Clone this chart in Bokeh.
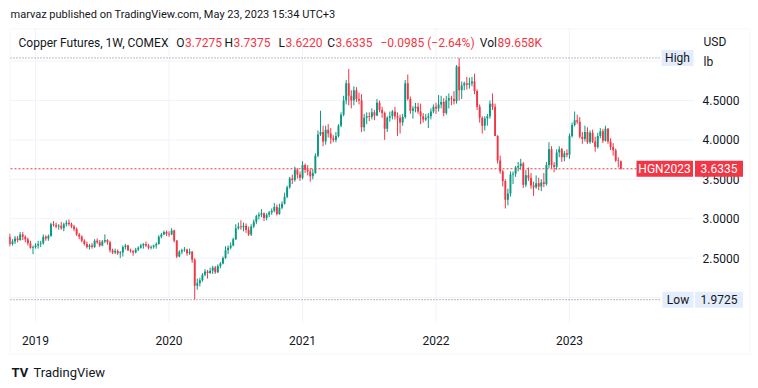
import pandas as pd
from bokeh.plotting import figure
from bokeh.models import Range1d, Label, BoxAnnotation, ColumnDataSource
from bokeh.core.properties import value
from bokeh.embed import file_html
from bokeh.resources import INLINE

# ---------------- data (weekly candles, HG copper futures, USD/lb) ----------------
start_week = "2018-10-29"

opens = [
    # 2018
    2.77, 2.68, 2.71, 2.75, 2.73, 2.80, 2.77, 2.74, 2.69,
    # 2019
    2.63, 2.64, 2.66, 2.68, 2.69, 2.77, 2.75, 2.78, 2.93, 2.92, 2.90, 2.91, 2.88, 2.93, 2.95, 2.93,
    2.90, 2.87, 2.80, 2.77, 2.72, 2.68, 2.64, 2.66, 2.64, 2.72, 2.70, 2.66, 2.71, 2.73, 2.70, 2.60,
    2.57, 2.59, 2.56, 2.57, 2.64, 2.66, 2.60, 2.59, 2.57, 2.61, 2.63, 2.66, 2.68, 2.66, 2.63, 2.64,
    2.66, 2.68, 2.77, 2.80,
    # 2020
    2.83, 2.81, 2.80, 2.85, 2.72, 2.52, 2.58, 2.60, 2.61, 2.56, 2.58, 2.48, 2.15, 2.18, 2.22, 2.29,
    2.33, 2.31, 2.34, 2.38, 2.32, 2.40, 2.43, 2.50, 2.60, 2.63, 2.66, 2.74, 2.88, 2.90, 2.89, 2.91,
    2.86, 2.80, 2.90, 2.96, 3.03, 3.05, 3.07, 3.01, 3.05, 3.08, 3.10, 3.15, 3.06, 3.14, 3.19, 3.28,
    3.40, 3.51, 3.49, 3.62, 3.56,
    # 2021
    3.52, 3.68, 3.62, 3.60, 3.54, 3.58, 3.80, 4.07, 4.10, 3.98, 4.13, 4.08, 4.02, 4.00, 4.05, 4.18,
    4.32, 4.50, 4.72, 4.56, 4.50, 4.63, 4.52, 4.50, 4.16, 4.28, 4.30, 4.29, 4.35, 4.31, 4.47, 4.38,
    4.34, 4.14, 4.28, 4.30, 4.36, 4.30, 4.28, 4.22, 4.29, 4.72, 4.52, 4.37, 4.40, 4.42, 4.36, 4.30,
    4.26, 4.28, 4.30, 4.36,
    # 2022
    4.42, 4.40, 4.45, 4.48, 4.34, 4.50, 4.53, 4.52, 4.49, 4.93, 4.63, 4.69, 4.72, 4.70, 4.72, 4.74,
    4.62, 4.42, 4.28, 4.18, 4.27, 4.30, 4.46, 4.42, 4.05, 3.74, 3.60, 3.48, 3.24, 3.32, 3.56, 3.57,
    3.65, 3.67, 3.70, 3.43, 3.55, 3.52, 3.42, 3.40, 3.45, 3.41, 3.46, 3.44, 3.68, 3.88, 3.68, 3.66,
    3.84, 3.88, 3.78, 3.83,
    # 2023
    3.81, 4.05, 4.19, 4.25, 4.23, 4.04, 4.01, 4.10, 3.97, 4.09, 3.98, 3.91, 4.05, 4.11, 3.99, 4.14,
    3.98, 3.91, 3.87, 3.74, 3.7275,
]

highs = [
    # 2018
    2.81, 2.74, 2.78, 2.78, 2.83, 2.83, 2.79, 2.76, 2.72,
    # 2019
    2.66, 2.69, 2.72, 2.72, 2.80, 2.79, 2.80, 2.95, 2.97, 2.95, 2.93, 2.96, 2.95, 2.98, 2.99, 2.95,
    2.92, 2.89, 2.82, 2.79, 2.74, 2.71, 2.68, 2.69, 2.74, 2.75, 2.73, 2.73, 2.80, 2.74, 2.72, 2.62,
    2.62, 2.61, 2.59, 2.66, 2.68, 2.67, 2.62, 2.60, 2.63, 2.65, 2.68, 2.69, 2.71, 2.68, 2.66, 2.67,
    2.70, 2.79, 2.82, 2.85,
    # 2020
    2.85, 2.84, 2.88, 2.86, 2.73, 2.60, 2.62, 2.64, 2.62, 2.62, 2.59, 2.50, 2.24, 2.25, 2.31, 2.36,
    2.35, 2.38, 2.40, 2.40, 2.42, 2.45, 2.52, 2.65, 2.66, 2.70, 2.76, 2.93, 2.95, 2.98, 2.95, 2.94,
    2.90, 2.93, 2.99, 3.05, 3.08, 3.12, 3.08, 3.07, 3.10, 3.13, 3.20, 3.18, 3.19, 3.22, 3.33, 3.42,
    3.53, 3.56, 3.66, 3.64, 3.60,
    # 2021
    3.73, 3.70, 3.68, 3.64, 3.63, 3.83, 4.12, 4.37, 4.18, 4.18, 4.20, 4.15, 4.06, 4.10, 4.20, 4.35,
    4.56, 4.76, 4.90, 4.63, 4.68, 4.67, 4.60, 4.58, 4.33, 4.35, 4.35, 4.40, 4.38, 4.52, 4.50, 4.42,
    4.36, 4.30, 4.36, 4.38, 4.42, 4.35, 4.32, 4.33, 4.76, 4.83, 4.55, 4.43, 4.47, 4.47, 4.46, 4.34,
    4.33, 4.34, 4.40, 4.45,
    # 2022
    4.47, 4.57, 4.56, 4.53, 4.56, 4.59, 4.56, 4.62, 4.95, 5.04, 4.74, 4.74, 4.80, 4.79, 4.80, 4.84,
    4.64, 4.45, 4.30, 4.30, 4.33, 4.50, 4.59, 4.46, 4.06, 3.80, 3.62, 3.50, 3.38, 3.60, 3.60, 3.67,
    3.72, 3.76, 3.72, 3.62, 3.65, 3.58, 3.47, 3.55, 3.52, 3.50, 3.58, 3.72, 3.97, 3.92, 3.72, 3.88,
    3.92, 3.90, 3.86, 3.88,
    # 2023
    4.08, 4.22, 4.36, 4.32, 4.29, 4.10, 4.18, 4.16, 4.12, 4.13, 4.04, 4.09, 4.15, 4.14, 4.18, 4.15,
    4.02, 3.96, 3.89, 3.78, 3.7375,
]

lows = [
    # 2018
    2.65, 2.66, 2.68, 2.70, 2.72, 2.73, 2.70, 2.66, 2.62,
    # 2019
    2.55, 2.62, 2.62, 2.64, 2.67, 2.72, 2.72, 2.77, 2.90, 2.88, 2.86, 2.86, 2.84, 2.90, 2.91, 2.88,
    2.84, 2.78, 2.74, 2.70, 2.66, 2.62, 2.61, 2.62, 2.63, 2.68, 2.64, 2.65, 2.69, 2.67, 2.57, 2.55,
    2.55, 2.54, 2.50, 2.52, 2.61, 2.59, 2.57, 2.53, 2.56, 2.59, 2.62, 2.62, 2.64, 2.61, 2.61, 2.62,
    2.62, 2.67, 2.75, 2.79,
    # 2020
    2.78, 2.77, 2.79, 2.70, 2.50, 2.51, 2.55, 2.58, 2.53, 2.54, 2.44, 1.9725, 2.10, 2.14, 2.20, 2.27,
    2.24, 2.30, 2.30, 2.30, 2.31, 2.37, 2.42, 2.49, 2.55, 2.61, 2.65, 2.73, 2.86, 2.86, 2.84, 2.82,
    2.78, 2.78, 2.88, 2.93, 2.99, 3.02, 2.97, 2.98, 3.02, 3.05, 3.08, 3.04, 3.05, 3.12, 3.18, 3.26,
    3.38, 3.44, 3.47, 3.51, 3.48,
    # 2021
    3.50, 3.58, 3.55, 3.47, 3.50, 3.57, 3.78, 4.05, 3.92, 3.94, 4.03, 3.95, 3.97, 3.97, 4.03, 4.16,
    4.30, 4.45, 4.44, 4.40, 4.44, 4.48, 4.45, 4.10, 4.11, 4.20, 4.24, 4.26, 4.25, 4.30, 4.35, 4.28,
    4.00, 4.10, 4.23, 4.26, 4.26, 4.05, 4.08, 4.18, 4.27, 4.50, 4.33, 4.27, 4.35, 4.33, 4.20, 4.22,
    4.24, 4.15, 4.26, 4.34,
    # 2022
    4.33, 4.36, 4.40, 4.30, 4.32, 4.40, 4.44, 4.45, 4.46, 4.50, 4.52, 4.63, 4.64, 4.65, 4.68, 4.58,
    4.38, 4.22, 4.08, 4.12, 4.18, 4.27, 4.38, 4.05, 3.70, 3.57, 3.41, 3.13, 3.17, 3.28, 3.44, 3.53,
    3.60, 3.62, 3.39, 3.40, 3.48, 3.38, 3.29, 3.38, 3.36, 3.35, 3.40, 3.42, 3.64, 3.64, 3.59, 3.62,
    3.78, 3.72, 3.73, 3.78,
    # 2023
    3.76, 4.03, 4.17, 4.20, 4.02, 3.95, 3.98, 3.95, 3.95, 3.96, 3.85, 3.89, 4.02, 3.96, 3.98, 3.95,
    3.87, 3.80, 3.72, 3.65, 3.622,
]

closes = [
    # 2018
    2.68, 2.71, 2.75, 2.73, 2.80, 2.77, 2.74, 2.69, 2.63,
    # 2019
    2.64, 2.66, 2.68, 2.69, 2.77, 2.75, 2.78, 2.93, 2.92, 2.90, 2.91, 2.88, 2.93, 2.95, 2.93, 2.90,
    2.87, 2.80, 2.77, 2.72, 2.68, 2.64, 2.66, 2.64, 2.72, 2.70, 2.66, 2.71, 2.73, 2.70, 2.60, 2.57,
    2.59, 2.56, 2.57, 2.64, 2.66, 2.60, 2.59, 2.57, 2.61, 2.63, 2.66, 2.68, 2.66, 2.63, 2.64, 2.66,
    2.68, 2.77, 2.80, 2.83,
    # 2020
    2.81, 2.80, 2.85, 2.72, 2.52, 2.58, 2.60, 2.61, 2.56, 2.58, 2.48, 2.15, 2.18, 2.22, 2.29, 2.33,
    2.31, 2.34, 2.38, 2.32, 2.40, 2.43, 2.50, 2.60, 2.63, 2.66, 2.74, 2.88, 2.90, 2.89, 2.91, 2.86,
    2.80, 2.90, 2.96, 3.03, 3.05, 3.07, 3.01, 3.05, 3.08, 3.10, 3.15, 3.06, 3.14, 3.19, 3.28, 3.40,
    3.51, 3.49, 3.62, 3.56, 3.52,
    # 2021
    3.68, 3.62, 3.60, 3.54, 3.58, 3.80, 4.07, 4.10, 3.98, 4.13, 4.08, 4.02, 4.00, 4.05, 4.18, 4.32,
    4.50, 4.72, 4.56, 4.50, 4.63, 4.52, 4.50, 4.16, 4.28, 4.30, 4.29, 4.35, 4.31, 4.47, 4.38, 4.34,
    4.14, 4.28, 4.30, 4.36, 4.30, 4.28, 4.22, 4.29, 4.72, 4.52, 4.37, 4.40, 4.42, 4.36, 4.30, 4.26,
    4.28, 4.30, 4.36, 4.42,
    # 2022
    4.40, 4.45, 4.48, 4.34, 4.50, 4.53, 4.52, 4.49, 4.93, 4.63, 4.69, 4.72, 4.70, 4.72, 4.74, 4.62,
    4.42, 4.28, 4.18, 4.27, 4.30, 4.46, 4.42, 4.05, 3.74, 3.60, 3.48, 3.24, 3.32, 3.56, 3.57, 3.65,
    3.67, 3.70, 3.43, 3.55, 3.52, 3.42, 3.40, 3.45, 3.41, 3.46, 3.44, 3.68, 3.88, 3.68, 3.66, 3.84,
    3.88, 3.78, 3.83, 3.81,
    # 2023
    4.05, 4.19, 4.25, 4.23, 4.04, 4.01, 4.10, 3.97, 4.09, 3.98, 3.91, 4.05, 4.11, 3.99, 4.14, 3.98,
    3.91, 3.87, 3.74, 3.732, 3.6335,
]

year_labels = ["2019", "2020", "2021", "2022", "2023"]
price_ticks = [2.5, 3.0, 3.5, 4.0, 4.5]
grid_levels = [2.0, 2.5, 3.0, 3.5, 4.0, 4.5, 5.0]

title_text = "marvaz published on TradingView.com, May 23, 2023 15:34 UTC+3"
symbol_text = "Copper Futures, 1W, COMEX"
ohlc_text = [("O", "3.7275"), ("H", "3.7375"), ("L", "3.6220"), ("C", "3.6335")]
change_text = "\u22120.0985 (\u22122.64%)"
vol_value = "89.658K"
contract = "HGN2023"
unit_lines = ["USD", "lb"]

# ---------------- layout helpers (canvas pixels -> data) ----------------
UP = "#089981"
DOWN = "#f23645"
TXT = "#131722"
GRID = "#f0f3fa"
FONT = "Roboto"
W, H = 756, 386

X0, DX = 9.4, 2.567           # canvas x of bar 0, px per bar
Y45, DY = 100.0, 78.8         # canvas y of price 4.5, px per 1.0


def X(px):
    return (px - X0) / DX


def Y(py):
    return 4.5 - (py - Y45) / DY


weeks = pd.date_range(start_week, periods=len(closes), freq="7D")
idx = list(range(len(closes)))
year_ticks = [next(i for i, d in enumerate(weeks) if d.year == int(y)) for y in year_labels]

colors = [UP if c >= o else DOWN for o, c in zip(opens, closes)]
src = ColumnDataSource(dict(
    x=idx, h=highs, l=lows,
    top=[max(o, c) for o, c in zip(opens, closes)],
    bottom=[min(o, c) for o, c in zip(opens, closes)],
    color=colors,
))

p = figure(width=W, height=H, output_backend="svg", toolbar_location=None,
           x_range=Range1d(X(0), X(W)), y_range=Range1d(Y(H), Y(0)),
           x_axis_location=None, y_axis_location=None, title=None, min_border=0)
p.outline_line_color = None
p.background_fill_color = "white"
p.border_fill_color = "white"
p.grid.visible = False

# chart pane limits (canvas px)
L_, R_, T_, B_ = 10, 694, 28, 322

# grid lines
p.segment(x0=[X(L_)] * len(grid_levels), x1=[X(R_)] * len(grid_levels),
          y0=grid_levels, y1=grid_levels, line_color=GRID, line_width=1)
p.segment(x0=year_ticks, x1=year_ticks, y0=[Y(T_)] * len(year_ticks), y1=[Y(B_)] * len(year_ticks),
          line_color=GRID, line_width=1)

# price scale labels and time scale labels
p.text(x=[X(702)] * len(price_ticks), y=price_ticks, text=[f"{v:.4f}" for v in price_ticks],
       text_font=value(FONT), text_font_size="12px", text_color=TXT,
       text_align="left", text_baseline="middle")
p.text(x=year_ticks, y=[Y(340)] * len(year_ticks), text=year_labels,
       text_font=value(FONT), text_font_size="12px", text_color=TXT,
       text_align="center", text_baseline="middle")

# candles
p.segment("x", "h", "x", "l", source=src, line_color="color", line_width=1)
p.vbar(x="x", width=0.74, top="top", bottom="bottom", source=src,
       fill_color="color", line_color=None)

# high / low / last price lines (limited to the chart pane)
hi = max(highs)
lo = min(lows)
last = closes[-1]
p.segment(x0=[X(L_)] * 2, x1=[X(661)] * 2, y0=[hi, lo], y1=[hi, lo],
          line_color="#787b86", line_dash="1 2", line_width=1)
p.segment(x0=[X(L_)], x1=[X(636)], y0=[last], y1=[last],
          line_color=DOWN, line_dash="2 2", line_width=1)

# outer frame of the chart widget
p.add_layout(BoxAnnotation(left=X(9.5), right=X(749.5), top=Y(28.5), bottom=Y(353.5),
                           fill_color=None, fill_alpha=0, line_color="#e0e3eb", line_width=1))


def box(l, r, t, b, color):
    p.add_layout(BoxAnnotation(left=X(l), right=X(r), top=Y(t), bottom=Y(b),
                               fill_color=color, fill_alpha=1.0, line_color=None))


def lab(text, px, py, color=TXT, size="12px", align="left", style="normal"):
    p.add_layout(Label(x=X(px), y=Y(py), text=text, text_color=color, text_font=FONT,
                       text_font_size=size, text_align=align, text_baseline="middle",
                       text_font_style=style))


# price-scale markers
HL_BG = "#e3edfb"
yh = Y45 + (4.5 - hi) * DY
yl = Y45 + (4.5 - lo) * DY
yc = Y45 + (4.5 - last) * DY
box(661, 693, yh - 8, yh + 8, HL_BG)
lab("High", 677, yh, align="center")
box(662, 693, yl - 8, yl + 8, HL_BG)
box(694.5, 742.5, yl - 8, yl + 8, HL_BG)
lab("Low", 677.5, yl, align="center")
lab(f"{lo:.4f}", 718.5, yl, align="center")
box(636, 692.5, yc - 8, yc + 8, DOWN)
box(694.5, 742.5, yc - 8, yc + 8, DOWN)
lab(contract, 664, yc, color="white", align="center")
lab(f"{last:.4f}", 718.5, yc, color="white", align="center")
lab(unit_lines[0], 703, 41)
lab(unit_lines[1], 703, 61)

# header texts
lab(title_text, 10, 14, color=TXT, size="11px")
lab(symbol_text, 18, 42)
xs = [184.5, 233, 285, 335]
for (k, v), xv in zip(ohlc_text, xs):
    lab(k, xv - 0.5, 42, align="right")
    lab(v, xv, 42, color=DOWN)
lab(change_text, 380, 42, color=DOWN)
lab("Vol", 496.5, 42, align="right")
lab(vol_value, 497, 42, color=DOWN)

# footer logo
lab("TV", 11, 372, size="13px", style="bold")
lab("TradingView", 33, 372, size="13px")

open("out.html", "w").write(file_html(p, INLINE))
